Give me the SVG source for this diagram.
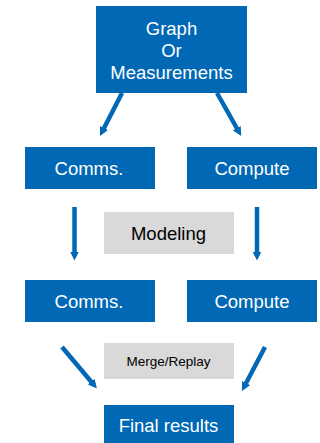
<svg xmlns="http://www.w3.org/2000/svg" width="320" height="443" viewBox="0 0 320 443">
  <style>
    .box { fill: #0068b5; }
    .grey { fill: #d9d9d9; }
    .wt { fill: #ffffff; font-family: "Liberation Sans", Arial, sans-serif; font-size: 18.5px; text-anchor: middle; }
    .bt { fill: #000000; font-family: "Liberation Sans", Arial, sans-serif; font-size: 18.5px; text-anchor: middle; }
    .st { fill: #000000; font-family: "Liberation Sans", Arial, sans-serif; font-size: 13.5px; text-anchor: middle; }
    .conn { stroke: #0068b5; stroke-width: 4.5; fill: none; marker-end: url(#ah); }
  </style>
  <defs>
    <marker id="ah" viewBox="0 0 10 10" refX="5" refY="5" markerWidth="2" markerHeight="2" orient="auto" markerUnits="strokeWidth">
      <path d="M0,0 L10,5 L0,10 Z" fill="#0068b5"/>
    </marker>
  </defs>

  <rect width="320" height="443" fill="#ffffff"/>

  <g id="connectors">
    <line class="conn" x1="122" y1="93" x2="102" y2="132"/>
    <line class="conn" x1="217" y1="93" x2="239" y2="132"/>
    <line class="conn" x1="74.5" y1="207" x2="74.5" y2="256"/>
    <line class="conn" x1="257" y1="207" x2="257" y2="256"/>
    <line class="conn" x1="62" y1="347" x2="94" y2="385"/>
    <line class="conn" x1="265" y1="347" x2="244" y2="387"/>
  </g>

  <g id="source">
    <rect class="box" x="96" y="6" width="151" height="87"/>
    <text class="wt" x="171.5" y="35">Graph</text>
    <text class="wt" x="171.5" y="57">Or</text>
    <text class="wt" x="171.5" y="79">Measurements</text>
  </g>

  <g id="comms1">
    <rect class="box" x="25" y="147" width="130" height="42"/>
    <text class="wt" x="89" y="175">Comms.</text>
  </g>

  <g id="compute1">
    <rect class="box" x="187" y="147" width="130" height="42"/>
    <text class="wt" x="252" y="175">Compute</text>
  </g>

  <g id="modeling">
    <rect class="grey" x="104" y="212" width="130" height="42"/>
    <text class="bt" x="168.5" y="240">Modeling</text>
  </g>

  <g id="comms2">
    <rect class="box" x="25" y="280" width="130" height="42"/>
    <text class="wt" x="89" y="308">Comms.</text>
  </g>

  <g id="compute2">
    <rect class="box" x="187" y="280" width="130" height="42"/>
    <text class="wt" x="252" y="308">Compute</text>
  </g>

  <g id="merge">
    <rect class="grey" x="104" y="343" width="130" height="36"/>
    <text class="st" x="168.5" y="366">Merge/Replay</text>
  </g>

  <g id="final">
    <rect class="box" x="104" y="405" width="130" height="38"/>
    <text class="wt" x="168.5" y="432">Final results</text>
  </g>
</svg>
